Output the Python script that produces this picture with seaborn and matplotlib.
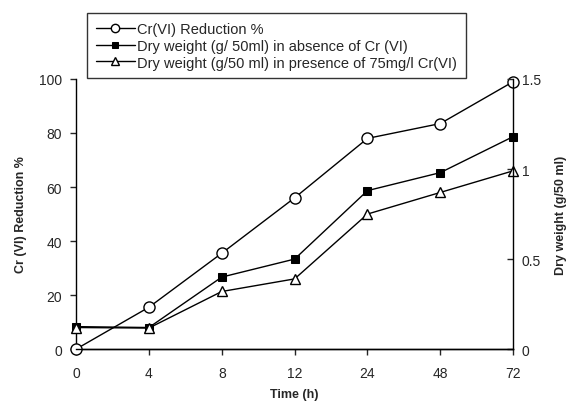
import numpy as np
import pandas as pd
import matplotlib
matplotlib.use("Agg")
import matplotlib.pyplot as plt
import seaborn as sns

# data
time_labels = ["0", "4", "8", "12", "24", "48", "72"]
reduction = [0, 15.5, 35.5, 56, 78, 83.5, 99]
dw_absence = [0.125, 0.12, 0.40, 0.50, 0.88, 0.98, 1.18]
dw_presence = [0.12, 0.117, 0.32, 0.39, 0.75, 0.87, 0.99]

df = pd.DataFrame({
    "pos": np.arange(len(time_labels)),
    "reduction": reduction,
    "absence": dw_absence,
    "presence": dw_presence,
})

sns.set_style("ticks")
plt.rcParams["font.family"] = ["Liberation Sans", "DejaVu Sans"]

fig = plt.figure(figsize=(5.76, 4.10), dpi=100)
ax = fig.add_axes([0.132, 0.146, 0.759, 0.659])
ax2 = ax.twinx()

sns.lineplot(data=df, x="pos", y="reduction", ax=ax, color="black", lw=1,
             marker="o", markersize=8, markerfacecolor="white",
             markeredgecolor="black", markeredgewidth=1, clip_on=False,
             label="Cr(VI) Reduction %", legend=False, zorder=5)
sns.lineplot(data=df, x="pos", y="absence", ax=ax2, color="black", lw=1,
             marker="s", markersize=6, markerfacecolor="black",
             markeredgecolor="black", clip_on=False,
             label="Dry weight (g/ 50ml) in absence of Cr (VI)", legend=False)
sns.lineplot(data=df, x="pos", y="presence", ax=ax2, color="black", lw=1,
             marker="^", markersize=7, markerfacecolor="white",
             markeredgecolor="black", markeredgewidth=1, clip_on=False,
             label="Dry weight (g/50 ml) in presence of 75mg/l Cr(VI)", legend=False)

ax.set_xlim(0, 6)
ax.set_ylim(0, 100)
ax2.set_ylim(0, 1.5)
ax.set_xticks(df["pos"])
ax.set_xticklabels(time_labels)
ax.set_yticks([0, 20, 40, 60, 80, 100])
ax2.set_yticks([0, 0.5, 1, 1.5])
ax2.set_yticklabels(["0", "0.5", "1", "1.5"])

for a in (ax, ax2):
    a.spines["top"].set_visible(False)
    for s in a.spines.values():
        s.set_linewidth(1)
        s.set_color("black")
ax.spines["right"].set_visible(False)
ax2.spines["left"].set_visible(False)

ax.tick_params(axis="both", direction="out", length=4, width=1, labelsize=10, pad=6)
ax.tick_params(axis="x", pad=8)
ax2.tick_params(axis="y", direction="in", length=4, width=1, labelsize=10, pad=6)

ax.set_xlabel("Time (h)", fontsize=9, fontweight="bold", labelpad=6)
ax.set_ylabel("Cr (VI) Reduction %", fontsize=9, fontweight="bold", labelpad=9)
ax2.set_ylabel("Dry weight (g/50 ml)", fontsize=9, fontweight="bold", labelpad=10)

h1, l1 = ax.get_legend_handles_labels()
h2, l2 = ax2.get_legend_handles_labels()
leg = fig.legend(h1 + h2, l1 + l2, loc="upper left",
                 bbox_to_anchor=(0.151, 0.966), fontsize=10.5,
                 frameon=True, fancybox=False, handlelength=2.7,
                 labelspacing=0.2, borderpad=0.6, handletextpad=0.15,
                 borderaxespad=0, markerscale=0.75)
leg.get_frame().set_edgecolor("black")
leg.get_frame().set_linewidth(1)

fig.savefig("out.png", dpi=100)
